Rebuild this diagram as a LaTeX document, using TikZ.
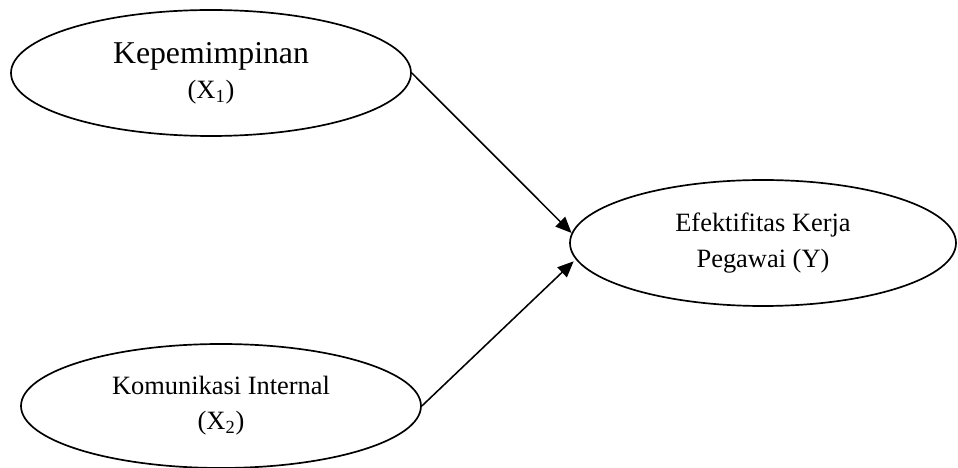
\documentclass[tikz,border=0pt]{standalone}
\usepackage{fontspec}
\setmainfont{Liberation Serif}
\usetikzlibrary{shapes.geometric,arrows.meta}

\begin{document}
\begin{tikzpicture}[
    var/.style={ellipse,draw=black,line width=1.2pt,inner sep=0pt,align=center,font=\fontsize{18.8}{25}\selectfont},
    link/.style={draw=black,line width=1.1pt,-{Triangle[length=0.4cm,width=0.34cm]}},
    ]
    \useasboundingbox (0,0) rectangle (23.95,-11.7);
    \node[var,minimum width=10cm,minimum height=3.15cm] (X1) at (5.275,-1.825)
        {{\fontsize{22.6}{25}\selectfont Kepemimpinan}\\(X\textsubscript{1})};
    \node[var,minimum width=10cm,minimum height=3.1cm] (X2) at (5.525,-10.15)
        {Komunikasi Internal\\(X\textsubscript{2})};
    \node[var,minimum width=9.65cm,minimum height=3.15cm] (Y) at (19.075,-6.075)
        {Efektifitas Kerja\\Pegawai (Y)};
    \draw[link] (X1.east) -- (Y.177);
    \draw[link,shorten >=2pt] (X2.east) -- (Y.185);
\end{tikzpicture}
\end{document}
